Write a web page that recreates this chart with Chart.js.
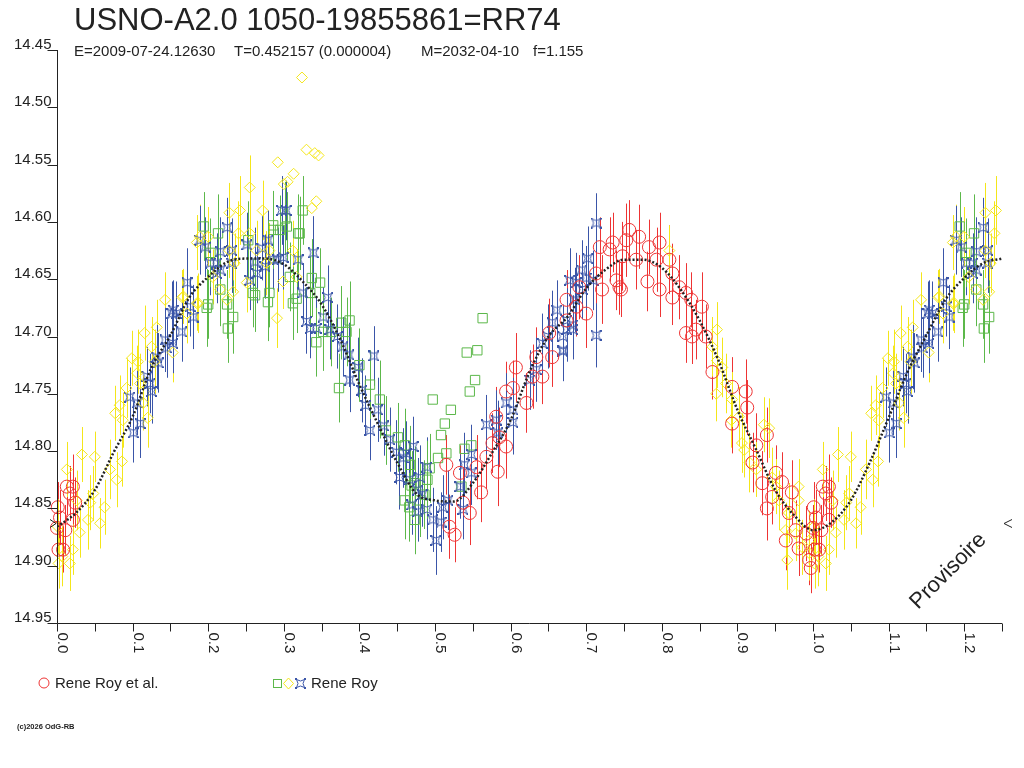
<!DOCTYPE html>
<html>
<head>
<meta charset="utf-8">
<title>USNO-A2.0 1050-19855861=RR74</title>
<script src="https://cdn.jsdelivr.net/npm/chart.js@4.4.1/dist/chart.umd.min.js"></script>
<style>
  html, body { margin: 0; padding: 0; background: #fff; }
  canvas { display: block; }
</style>
</head>
<body>
<canvas id="lc" width="1024" height="768"></canvas>
<script>
// Light curve data
// each observation: [phase, magnitude, error in millimag]

const redObs = [ // Rene Roy et al.
  [0.001,14.849,22],[0.013,14.831,25],[0.021,14.831,28],[0.017,14.837,24],[0.024,14.845,22],
  [0.004,14.858,24],[0.000,14.867,20],[0.011,14.869,22],[0.002,14.886,24],[0.008,14.886,20],[0.021,14.860,18],
  [0.515,14.812,26],[0.519,14.866,28],[0.526,14.873,24],[0.546,14.854,28],[0.561,14.836,26],
  [0.537,14.845,30],[0.533,14.819,24],[0.555,14.814,28],[0.568,14.805,28],[0.576,14.793,26],
  [0.583,14.818,30],[0.585,14.788,26],[0.581,14.770,26],[0.594,14.796,28],[0.594,14.748,26],
  [0.603,14.745,24],[0.607,14.727,30],[0.621,14.758,26],[0.629,14.735,28],[0.634,14.718,26],
  [0.642,14.735,24],[0.651,14.697,30],[0.655,14.718,26],[0.674,14.686,28],[0.687,14.674,26],[0.700,14.680,30],
  [0.674,14.668,26],[0.691,14.657,28],[0.721,14.659,30],[0.735,14.618,26],[0.744,14.657,24],
  [0.753,14.616,32],[0.757,14.607,26],[0.770,14.613,28],[0.748,14.630,30],[0.766,14.633,26],
  [0.783,14.622,24],[0.797,14.618,26],[0.793,14.633,28],[0.781,14.652,26],[0.797,14.659,24],
  [0.810,14.633,30],[0.814,14.645,26],[0.814,14.666,24],[0.823,14.657,28],[0.832,14.662,26],
  [0.839,14.668,24],[0.853,14.674,30],[0.832,14.697,26],[0.840,14.700,24],[0.731,14.624,28],
  [0.718,14.622,26],[0.713,14.645,30],[0.740,14.651,26],[0.746,14.659,24],
  [0.845,14.694,26],[0.858,14.700,28],[0.867,14.731,24],[0.893,14.744,26],[0.911,14.748,28],
  [0.913,14.762,24],[0.893,14.776,26],[0.925,14.795,28],[0.939,14.786,24],[0.920,14.810,26],
  [0.933,14.828,28],[0.951,14.819,24],[0.959,14.827,26],[0.939,14.850,28],[0.946,14.840,24],
  [0.968,14.854,26],[0.972,14.836,28],[0.977,14.869,26],[0.981,14.885,24],[0.995,14.895,22],
  [0.997,14.902,22],[0.964,14.878,26],[0.991,14.872,24]
];

const yellowObs = [ // Rene Roy, diamonds
  [0.001,14.866,24],[0.002,14.898,22],[0.007,14.892,26],[0.017,14.898,24],[0.021,14.886,22],
  [0.013,14.816,24],[0.026,14.843,26],[0.033,14.803,24],[0.041,14.860,26],[0.050,14.805,22],
  [0.048,14.837,24],[0.057,14.863,22],[0.063,14.849,24],[0.070,14.816,26],[0.079,14.825,24],
  [0.086,14.809,22],[0.077,14.767,24],[0.083,14.760,26],[0.087,14.773,24],[0.092,14.745,26],
  [0.099,14.719,24],[0.107,14.722,28],[0.106,14.732,24],[0.110,14.741,26],[0.114,14.758,24],
  [0.120,14.771,26],[0.116,14.697,24],[0.125,14.709,26],[0.132,14.692,24],[0.129,14.722,28],
  [0.143,14.668,24],[0.153,14.714,26],[0.166,14.666,24],[0.172,14.680,26],[0.185,14.671,24],
  [0.030,14.871,22],[0.044,14.845,24],
  [0.255,14.570,28],[0.228,14.592,26],[0.242,14.590,30],[0.272,14.590,26],[0.189,14.613,28],
  [0.185,14.618,24],[0.200,14.613,26],[0.240,14.610,28],[0.228,14.625,24],[0.235,14.636,26],
  [0.255,14.610,30],[0.264,14.625,26],[0.281,14.625,24],[0.277,14.636,28],[0.312,14.625,26],
  [0.299,14.652,24],[0.291,14.684,26],[0.317,14.648,24],[0.233,14.661,26],[0.206,14.648,24],
  [0.216,14.659,28],[0.167,14.665,24],[0.187,14.671,26],[0.225,14.668,24],[0.251,14.653,26],
  [0.324,14.474,0],[0.330,14.537,0],[0.341,14.540,0],[0.346,14.542,0],[0.292,14.548,0],
  [0.305,14.565,0],[0.313,14.558,0],[0.337,14.588,0],[0.343,14.582,0],[0.300,14.567,0],
  [0.873,14.694,24],[0.867,14.709,26],[0.873,14.721,24],[0.880,14.727,26],[0.872,14.750,24],
  [0.885,14.741,26],[0.893,14.755,24],[0.902,14.770,26],[0.892,14.773,24],[0.906,14.793,26],
  [0.909,14.799,24],[0.916,14.810,26],[0.925,14.816,24],[0.942,14.780,26],[0.935,14.777,24],
  [0.946,14.823,26],[0.951,14.831,24],[0.955,14.843,26],[0.964,14.869,24],[0.968,14.854,26],
  [0.981,14.831,24],[0.981,14.843,26],[0.977,14.872,24],[0.966,14.895,26],[0.986,14.884,24],
  [0.995,14.878,26],[0.995,14.889,24],[0.810,14.625,22]
];

const blueObs = [ // Rene Roy, stars
  [0.096,14.753,26],[0.106,14.758,28],[0.101,14.784,26],[0.110,14.776,30],[0.119,14.735,26],
  [0.125,14.748,28],[0.123,14.741,26],[0.132,14.718,28],[0.134,14.723,26],[0.143,14.703,28],
  [0.145,14.710,26],[0.152,14.680,28],[0.153,14.706,26],[0.158,14.680,28],[0.165,14.696,26],
  [0.172,14.653,30],[0.176,14.674,26],[0.180,14.683,28],[0.154,14.677,26],
  [0.189,14.616,30],[0.196,14.622,26],[0.203,14.636,28],[0.211,14.636,26],[0.216,14.626,30],
  [0.225,14.605,26],[0.231,14.625,28],[0.231,14.636,26],[0.216,14.642,28],[0.211,14.645,26],
  [0.251,14.620,28],[0.255,14.651,26],[0.262,14.635,30],[0.264,14.645,26],[0.271,14.623,28],
  [0.279,14.616,26],[0.275,14.639,28],[0.286,14.633,26],[0.292,14.633,28],[0.297,14.590,30],
  [0.303,14.590,26],[0.299,14.631,28],[0.319,14.633,26],[0.339,14.627,32],[0.325,14.662,26],
  [0.330,14.687,28],[0.352,14.683,26],[0.358,14.666,28],[0.335,14.693,26],[0.343,14.693,28],
  [0.361,14.694,26],[0.371,14.700,28],[0.378,14.709,26],
  [0.386,14.716,28],[0.398,14.727,26],[0.387,14.738,28],[0.419,14.717,26],[0.403,14.747,28],
  [0.408,14.760,26],[0.424,14.764,28],[0.432,14.778,26],[0.440,14.790,28],[0.414,14.782,26],
  [0.449,14.801,28],[0.458,14.806,26],[0.453,14.823,28],[0.466,14.825,26],[0.477,14.834,28],
  [0.469,14.847,26],[0.483,14.838,28],[0.489,14.851,26],[0.497,14.860,28],[0.501,14.878,30],
  [0.508,14.862,26],
  [0.471,14.796,26],[0.462,14.802,28],[0.489,14.814,26],[0.480,14.823,28],[0.477,14.853,26],
  [0.510,14.849,28],[0.517,14.843,26],[0.533,14.831,28],[0.537,14.851,26],[0.539,14.812,28],
  [0.548,14.803,26],[0.548,14.819,28],[0.568,14.777,26],[0.583,14.784,28],[0.581,14.773,26],
  [0.603,14.775,28],[0.594,14.758,26],[0.603,14.764,28],[0.625,14.738,26],[0.634,14.729,28],
  [0.642,14.706,26],[0.649,14.700,28],[0.669,14.712,26],[0.655,14.688,28],[0.661,14.677,26],
  [0.674,14.694,28],[0.682,14.690,26],[0.713,14.699,28],
  [0.713,14.601,26],[0.702,14.632,28],[0.694,14.642,26],[0.678,14.651,28],[0.687,14.653,26],
  [0.700,14.649,28],[0.709,14.651,26],[0.685,14.668,28],[0.695,14.659,26],[0.674,14.686,28],
  [0.682,14.694,26],[0.669,14.700,28],[0.669,14.713,26]
];

const greenObs = [ // Rene Roy, squares
  [0.194,14.604,30],[0.213,14.610,34],[0.203,14.627,30],[0.216,14.659,32],[0.200,14.672,30],
  [0.198,14.675,34],[0.225,14.672,30],[0.233,14.683,32],[0.226,14.693,30],[0.253,14.616,34],
  [0.259,14.662,30],[0.262,14.664,32],[0.286,14.603,30],[0.286,14.607,34],[0.295,14.607,30],
  [0.302,14.597,32],[0.304,14.604,30],[0.319,14.610,34],[0.325,14.590,30],[0.321,14.610,32],
  [0.281,14.662,30],[0.279,14.670,34],[0.308,14.648,30],[0.312,14.671,32],[0.317,14.667,30],
  [0.337,14.649,34],[0.348,14.653,30],[0.335,14.662,32],[0.343,14.705,30],[0.352,14.696,34],
  [0.363,14.696,30],[0.376,14.688,32],[0.383,14.696,30],[0.387,14.686,34],
  [0.373,14.745,30],[0.400,14.725,32],[0.414,14.742,30],[0.427,14.755,34],[0.451,14.788,30],
  [0.460,14.795,32],[0.435,14.782,30],[0.467,14.812,34],[0.469,14.830,30],[0.480,14.843,32],
  [0.473,14.860,30],[0.460,14.843,34],[0.466,14.849,30],[0.473,14.828,32],[0.493,14.815,30],
  [0.490,14.825,34],[0.486,14.838,30],
  [0.504,14.806,0],[0.515,14.802,0],[0.508,14.786,0],[0.513,14.776,0],[0.521,14.764,0],
  [0.497,14.755,0],[0.546,14.748,0],[0.553,14.738,0],[0.542,14.714,0],[0.556,14.712,0],
  [0.563,14.684,0],[0.539,14.798,0],[0.548,14.795,0],[0.535,14.831,0]
];

// fitted light curve
const curvePhase = [0,0.025,0.05,0.075,0.1,0.125,0.15,0.175,0.2,0.225,0.25,0.275,0.3,0.325,0.35,
  0.375,0.4,0.425,0.45,0.475,0.5,0.525,0.55,0.575,0.6,0.625,0.65,0.675,0.7,0.725,0.75,0.775,0.8,
  0.825,0.85,0.875,0.9,0.925,0.95,0.975,1.0,1.025,1.05,1.075,1.1,1.125,1.15,1.175,1.2,1.225,1.25];
const curveMag = [14.866,14.854,14.834,14.801,14.770,14.727,14.699,14.666,14.648,14.635,14.632,
  14.632,14.637,14.652,14.672,14.703,14.742,14.777,14.810,14.837,14.843,14.844,14.828,14.802,
  14.773,14.731,14.700,14.683,14.658,14.642,14.633,14.633,14.640,14.659,14.686,14.721,14.764,
  14.799,14.834,14.856,14.869,14.862,14.843,14.810,14.771,14.731,14.699,14.668,14.649,14.636,14.632];

// axes
const yTicks = [14.45,14.50,14.55,14.60,14.65,14.70,14.75,14.80,14.85,14.90,14.95];
const xTicks = [0.0,0.1,0.2,0.3,0.4,0.5,0.6,0.7,0.8,0.9,1.0,1.1,1.2];
const xMinor = [0.05,0.15,0.25,0.35,0.45,0.55,0.65,0.75,0.85,0.95,1.05,1.15,1.25];
const minLevel = 14.863;

const title = 'USNO-A2.0 1050-19855861=RR74';
const subtitle = ['E=2009-07-24.12630', 'T=0.452157 (0.000004)', 'M=2032-04-10', 'f=1.155'];

const RED = '#ee3434', YELLOW = '#f4e61a', GREEN = '#5cb84a', BLUE = '#3a55a8';
const FONT = '"Liberation Sans", Arial, sans-serif';

// phases below 0.25 are plotted a second time after phase 1
function toPoints(list) {
  const pts = [];
  list.forEach(o => {
    pts.push({x: o[0], y: o[1], e: o[2] / 1000});
    if (o[0] < 0.25) pts.push({x: o[0] + 1, y: o[1], e: o[2] / 1000});
  });
  return pts;
}

function starMarker(color) {
  const c = document.createElement('canvas');
  c.width = 11; c.height = 11;
  const g = c.getContext('2d');
  g.strokeStyle = color;
  g.lineWidth = 1;
  g.beginPath();
  g.moveTo(1.5, 1.5);
  g.quadraticCurveTo(5.5, 4.5, 9.5, 1.5);
  g.quadraticCurveTo(6.5, 5.5, 9.5, 9.5);
  g.quadraticCurveTo(5.5, 6.5, 1.5, 9.5);
  g.quadraticCurveTo(4.5, 5.5, 1.5, 1.5);
  g.stroke();
  g.fillStyle = color;
  g.fillRect(0, 0, 2, 2); g.fillRect(9, 0, 2, 2);
  g.fillRect(0, 9, 2, 2); g.fillRect(9, 9, 2, 2);
  return c;
}
const blueStar = starMarker(BLUE);

const errorBars = {
  id: 'errorBars',
  beforeDatasetsDraw(chart) {
    const {ctx, scales: {x, y}} = chart;
    ctx.save();
    ctx.lineWidth = 1;
    chart.data.datasets.forEach(ds => {
      if (!ds.errColor) return;
      ctx.strokeStyle = ds.errColor;
      ctx.beginPath();
      ds.data.forEach(p => {
        if (!p.e) return;
        const px = Math.round(x.getPixelForValue(p.x)) + 0.5;
        ctx.moveTo(px, y.getPixelForValue(p.y - p.e));
        ctx.lineTo(px, y.getPixelForValue(p.y + p.e));
      });
      ctx.stroke();
    });
    ctx.restore();
  }
};

const decor = {
  id: 'decor',
  afterDraw(chart) {
    const {ctx, chartArea: a, scales: {x, y}} = chart;
    ctx.save();
    ctx.strokeStyle = '#222';
    ctx.fillStyle = '#222';
    ctx.lineWidth = 1;

    // axis lines and tick marks
    const left = Math.round(a.left) + 0.5, bottom = Math.round(a.bottom) + 0.5;
    ctx.beginPath();
    ctx.moveTo(left, a.top);
    ctx.lineTo(left, bottom);
    ctx.lineTo(a.right, bottom);
    yTicks.forEach(v => {
      const py = Math.round(y.getPixelForValue(v)) + 0.5;
      ctx.moveTo(left - 10, py);
      ctx.lineTo(left, py);
    });
    xTicks.concat(xMinor).forEach(v => {
      const px = Math.round(x.getPixelForValue(v)) + 0.5;
      ctx.moveTo(px, bottom);
      ctx.lineTo(px, bottom + 8);
    });
    ctx.stroke();

    ctx.font = '15px ' + FONT;
    ctx.textAlign = 'right';
    ctx.textBaseline = 'alphabetic';
    yTicks.forEach(v => {
      ctx.fillText(v.toFixed(2), left - 6, Math.round(y.getPixelForValue(v)) - 1);
    });
    ctx.textAlign = 'left';
    xTicks.forEach(v => {
      ctx.save();
      ctx.translate(Math.round(x.getPixelForValue(v)) + 1, bottom + 9);
      ctx.rotate(Math.PI / 2);
      ctx.fillText(v.toFixed(1), 0, 0);
      ctx.restore();
    });

    // small level marks at both ends
    const pm = Math.round(y.getPixelForValue(minLevel)) + 0.5;
    ctx.beginPath();
    ctx.moveTo(a.left - 7, pm - 4); ctx.lineTo(a.left - 1, pm); ctx.lineTo(a.left - 7, pm + 4);
    ctx.moveTo(a.right + 10, pm - 4); ctx.lineTo(a.right + 2, pm); ctx.lineTo(a.right + 10, pm + 4);
    ctx.stroke();

    // title block
    ctx.font = '31px ' + FONT;
    ctx.fillText(title, 74, 30);
    ctx.font = '15px ' + FONT;
    [74, 234, 421, 533].forEach((sx, i) => ctx.fillText(subtitle[i], sx, 56));

    // legend
    ctx.font = '15px ' + FONT;
    ctx.fillText('Rene Roy et al.', 55, 688);
    ctx.fillText('Rene Roy', 311, 688);
    ctx.strokeStyle = RED;
    ctx.beginPath(); ctx.arc(44, 683, 5, 0, Math.PI * 2); ctx.stroke();
    ctx.strokeStyle = GREEN;
    ctx.strokeRect(273.5, 679.5, 8, 8);
    ctx.strokeStyle = YELLOW;
    ctx.beginPath();
    ctx.moveTo(288.5, 678); ctx.lineTo(293.5, 683.5); ctx.lineTo(288.5, 689); ctx.lineTo(283.5, 683.5);
    ctx.closePath(); ctx.stroke();
    ctx.drawImage(blueStar, 295, 678);

    ctx.fillStyle = '#222';
    ctx.font = 'bold 7.5px ' + FONT;
    ctx.fillText('(c)2026 OdG-RB', 17, 729);

    // watermark
    ctx.font = '22px ' + FONT;
    ctx.translate(918, 610);
    ctx.rotate(-Math.PI / 4);
    ctx.fillText('Provisoire', 0, 0);
    ctx.restore();
  }
};

const curvePoints = curvePhase.map((p, i) => ({x: p, y: curveMag[i]}));

new Chart(document.getElementById('lc'), {
  type: 'scatter',
  data: {
    datasets: [
      {
        label: 'fit',
        data: curvePoints,
        showLine: true,
        borderColor: '#222',
        borderWidth: 2.5,
        borderDash: [2, 2],
        tension: 0.4,
        cubicInterpolationMode: 'monotone',
        pointRadius: 0
      },
      {
        label: 'Rene Roy et al.',
        data: toPoints(redObs),
        errColor: RED,
        pointStyle: 'circle',
        pointRadius: 6.5,
        borderColor: RED,
        backgroundColor: 'rgba(0,0,0,0)',
        borderWidth: 1,
        clip: false
      },
      {
        label: 'Rene Roy (yellow)',
        data: toPoints(yellowObs),
        errColor: YELLOW,
        pointStyle: 'rectRot',
        pointRadius: 5.5,
        borderColor: YELLOW,
        backgroundColor: 'rgba(0,0,0,0)',
        borderWidth: 1,
        clip: false
      },
      {
        label: 'Rene Roy (blue)',
        data: toPoints(blueObs),
        errColor: BLUE,
        pointStyle: blueStar,
        borderColor: BLUE,
        clip: false
      },
      {
        label: 'Rene Roy (green)',
        data: toPoints(greenObs),
        errColor: GREEN,
        pointStyle: 'rect',
        pointRadius: 6.6,
        borderColor: GREEN,
        backgroundColor: 'rgba(0,0,0,0)',
        borderWidth: 1,
        clip: false
      }
    ]
  },
  options: {
    responsive: false,
    devicePixelRatio: 1,
    animation: false,
    events: [],
    layout: { padding: { left: 57, top: 50, right: 22, bottom: 145 } },
    scales: {
      x: { type: 'linear', display: false, min: 0, max: 1.25 },
      y: { type: 'linear', display: false, min: 14.45, max: 14.95, reverse: true }
    },
    plugins: {
      legend: { display: false },
      tooltip: { enabled: false }
    }
  },
  plugins: [errorBars, decor]
});
</script>
</body>
</html>
